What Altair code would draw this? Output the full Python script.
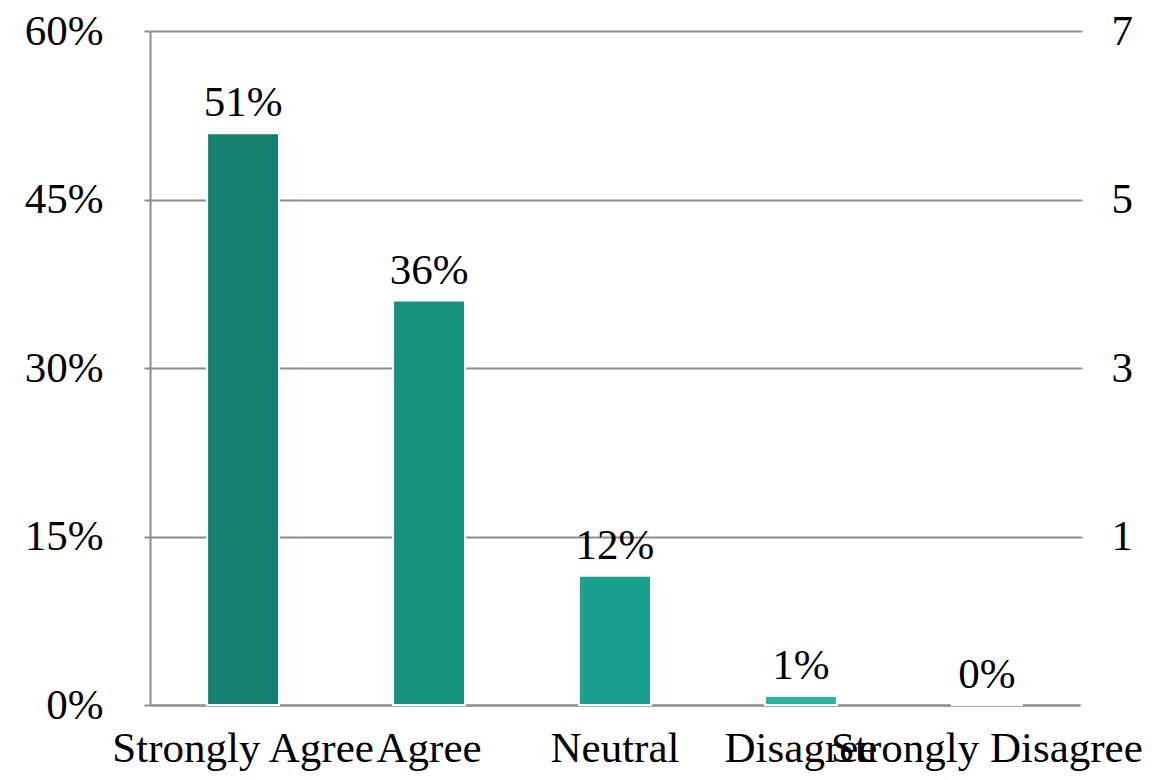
import altair as alt
import pandas as pd

categories = ["Strongly Agree", "Agree", "Neutral", "Disagree", "Strongly Disagree"]
values = [50.9, 36.0, 11.5, 0.8, 0.0]
value_labels = ["51%", "36%", "12%", "1%", "0%"]
colors = ["#15806f", "#17917f", "#1aa18d", "#29b5a0", "#3cc5b0"]
left_ticks = [0, 15, 30, 45, 60]
right_ticks = [15, 30, 45, 60]
right_tick_labels = ["1", "3", "5", "7"]

df = pd.DataFrame({"cat": categories, "val": values, "label": value_labels})

FONT = "Liberation Serif"
FS = 43
GRAY = "#8c8c8c"

yscale = alt.Scale(domain=[0, 60], nice=False, zero=True)

x = alt.X(
    "cat:N",
    sort=categories,
    title=None,
    scale=alt.Scale(paddingInner=0.613, paddingOuter=0.307),
    axis=alt.Axis(
        labelAngle=0, labelFont=FONT, labelFontSize=FS, labelColor="#000000",
        labelOverlap=False, labelLimit=0, ticks=False, domain=True,
        domainColor=GRAY, domainWidth=2, labelPadding=22,
    ),
)

base = alt.Chart(df)

bars = base.mark_bar(stroke="white", strokeWidth=2).encode(
    x=x,
    y=alt.Y(
        "val:Q", scale=yscale, title=None,
        axis=alt.Axis(
            values=left_ticks, labelExpr="datum.value + '%'", grid=True,
            gridColor=GRAY, gridWidth=2, tickSize=6, tickColor=GRAY, tickWidth=2,
            domainColor=GRAY, domainWidth=2, labelPadding=41, labelFont=FONT,
            labelFontSize=FS, labelColor="#000000",
        ),
    ),
    color=alt.Color("cat:N", scale=alt.Scale(domain=categories, range=colors), legend=None),
)

text = base.mark_text(baseline="alphabetic", dy=-17, font=FONT, fontSize=FS, color="#000000").encode(
    x=x,
    y=alt.Y("val:Q", scale=yscale, axis=None),
    text="label:N",
)

expr = "''"
for v, lab in zip(right_ticks, right_tick_labels):
    expr = f"datum.value == {v} ? '{lab}' : ({expr})"

right = base.mark_point(opacity=0).encode(
    x=x,
    y=alt.Y(
        "val:Q", scale=yscale, title=None,
        axis=alt.Axis(
            orient="right", values=right_ticks, labelExpr=expr, grid=False,
            domain=False, tickSize=2, tickColor=GRAY, tickWidth=2, labelPadding=29,
            labelFont=FONT, labelFontSize=FS, labelColor="#000000", labelAlign="left",
        ),
    ),
)

chart = (
    alt.layer(bars, text, right)
    .resolve_scale(y="independent")
    .properties(
        width=930, height=674,
        autosize=alt.AutoSizeParams(type="none"),
        padding={"left": 142, "top": 23, "right": 68, "bottom": 70},
    )
    .configure_view(stroke=None)
)

chart.save("out.html", embed_options={"renderer": "svg", "actions": False})
